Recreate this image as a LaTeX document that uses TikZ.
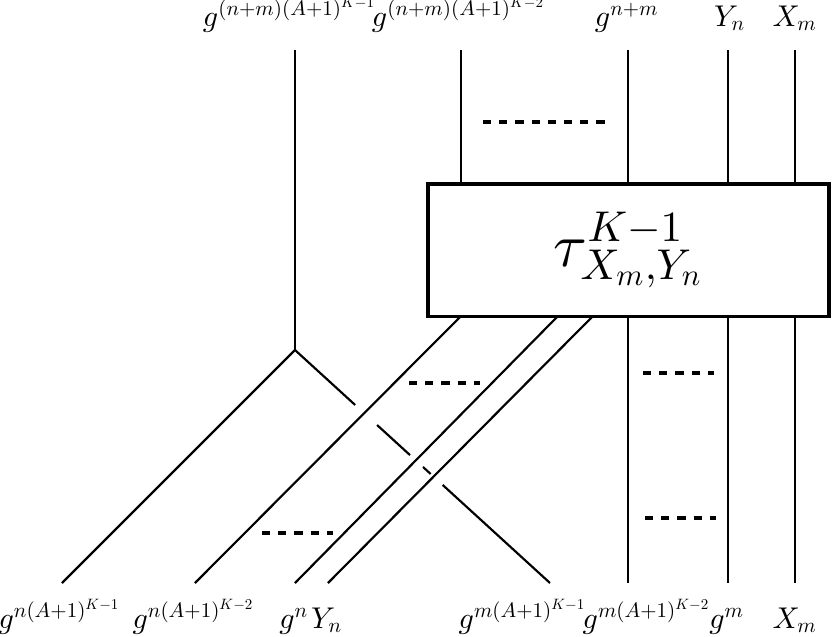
\documentclass[tikz,border=0pt]{standalone}
\DeclareFontShape{OML}{cmm}{m}{it}{<->cmmi10}{}
\DeclareFontShape{OT1}{cmr}{m}{n}{<->cmr10}{}
\DeclareFontShape{OMS}{cmsy}{m}{n}{<->cmsy10}{}
\usetikzlibrary{calc}
\begin{document}
\begin{tikzpicture}[x=0.3333pt,y=-0.3333pt,
  strand/.style={line width=0.72pt},
  dots/.style={line width=1.25pt, dash pattern=on 2.7pt off 2.7pt},
  lab/.style={anchor=base, inner sep=0pt},
  boxst/.style={draw, line width=1.3pt, inner sep=0pt, minimum width=133.6pt, minimum height=44.3pt}]
\useasboundingbox (0,0) rectangle (832,636);
% box
\node[boxst] (box) at (628.5,250) {\fontsize{20.5}{24}\selectfont$\tau^{K-1}_{X_m,Y_n}$};
% coordinates
\coordinate (t1) at (295,50);
\coordinate (t2) at (461,50);
\coordinate (t3) at (628,50);
\coordinate (t4) at (728,50);
\coordinate (t5) at (795,50);
\coordinate (J) at (295,350);
\coordinate (b1) at (62,583);
\coordinate (b2) at (195,583);
\coordinate (b3) at (295,583);
\coordinate (b4) at (328,583);
\coordinate (b5) at (550,583);
\coordinate (b6) at (628,583);
\coordinate (b7) at (728,583);
\coordinate (b8) at (795,583);
\coordinate (d1) at (460,317);
\coordinate (d2) at (557,317);
\coordinate (d3) at (592,317);
% top labels
\node[lab] (l1) at (290,26) {$g^{(n+m)(A+1)^{K-1}}$};
\node[lab] (l2) at (459,26) {$g^{(n+m)(A+1)^{K-2}}$};
\node[lab] (l3) at (627,26) {$g^{n+m}$};
\node[lab] (l4) at (730,26) {$Y_n$};
\node[lab] (l5) at (795,26) {$X_m$};
% bottom labels
\node[lab] (m1) at (60,628) {$g^{n(A+1)^{K-1}}$};
\node[lab] (m2) at (194,628) {$g^{n(A+1)^{K-2}}$};
\node[lab] (m3) at (294,628) {$g^{n}$};
\node[lab] (m4) at (327,628) {$Y_n$};
\node[lab] (m5) at (523,628) {$g^{m(A+1)^{K-1}}$};
\node[lab] (m6) at (647,628) {$g^{m(A+1)^{K-2}}$};
\node[lab] (m7) at (727,628) {$g^{m}$};
\node[lab] (m8) at (795,628) {$X_m$};
% top strands
\draw[strand] (t1) -- (J);
\draw[strand] (t2) -- (t2 |- box.north);
\draw[strand] (t3) -- (t3 |- box.north);
\draw[strand] (t4) -- (t4 |- box.north);
\draw[strand] (t5) -- (t5 |- box.north);
% lower strands
\draw[strand] (J) -- (b1);
\draw[strand] (d1) -- (b2);
\draw[strand] (d2) -- (b3);
\draw[strand] (d3) -- (b4);
\draw[strand] (b6 |- box.south) -- (b6);
\draw[strand] (b7 |- box.south) -- (b7);
\draw[strand] (b8 |- box.south) -- (b8);
% under-crossing branch
\draw[strand] (J) -- ($(J)!0.236!(b5)$);
\draw[strand] ($(J)!0.322!(b5)$) -- ($(J)!0.451!(b5)$);
\draw[strand] ($(J)!0.502!(b5)$) -- ($(J)!0.532!(b5)$);
\draw[strand] ($(J)!0.579!(b5)$) -- (b5);
% dots
\draw[dots] (483,122) -- (609,122);
\draw[dots] (409,383) -- (480,383);
\draw[dots] (262,533) -- (333,533);
\draw[dots] (643,373) -- (714,373);
\draw[dots] (645,518) -- (716,518);
\end{tikzpicture}
\end{document}
